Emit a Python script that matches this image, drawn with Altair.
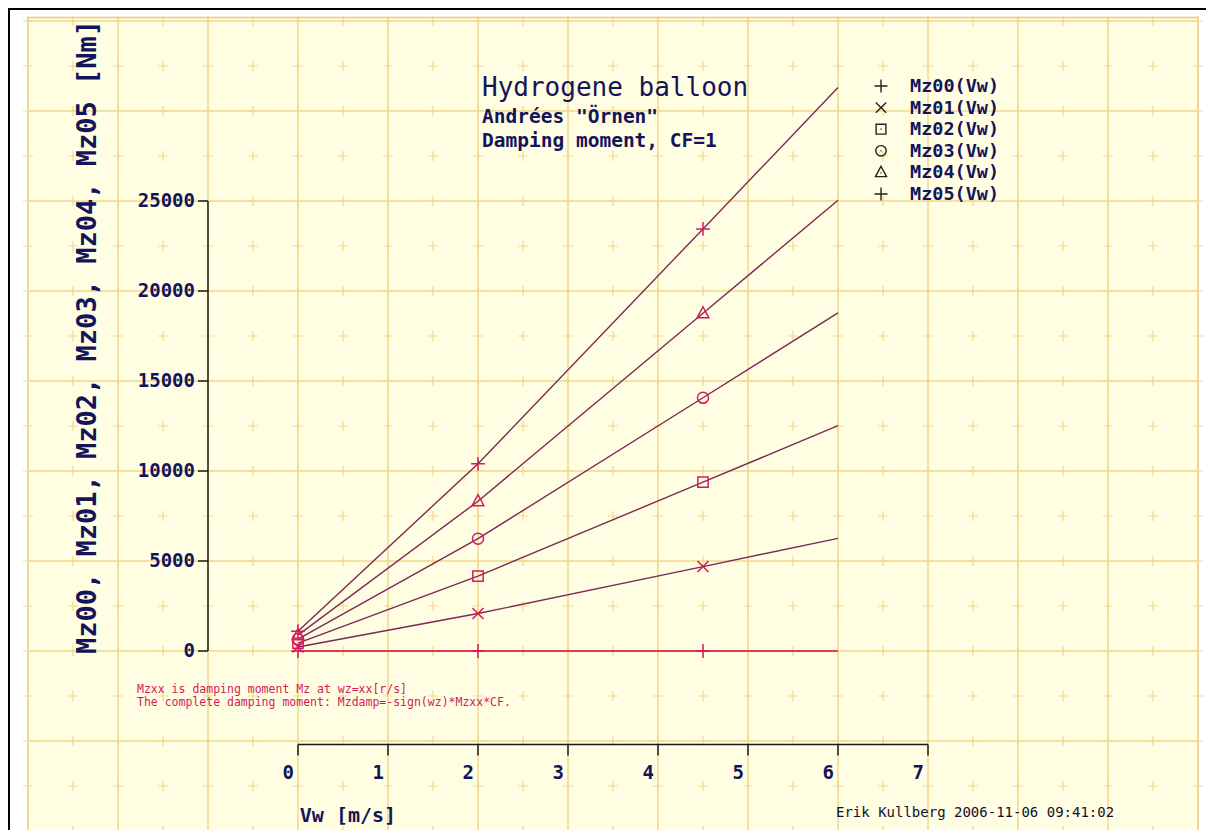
import altair as alt
import pandas as pd
import numpy as np

# ---------------- data ----------------
VW = [0, 2, 4.5, 6]
SERIES = ["Mz00(Vw)", "Mz01(Vw)", "Mz02(Vw)", "Mz03(Vw)", "Mz04(Vw)", "Mz05(Vw)"]
MZ00 = [0, 0, 0, 0]
MZ01 = [220, 2080, 4690, 6260]
MZ02 = [440, 4160, 9380, 12520]
MZ03 = [660, 6240, 14070, 18780]
MZ04 = [880, 8320, 18760, 25040]
MZ05 = [1100, 10400, 23450, 31300]
MARKED_VW = [0, 2, 4.5]

Y_TICKS = [0, 5000, 10000, 15000, 20000, 25000]
X_TICKS = [0, 1, 2, 3, 4, 5, 6, 7]
TITLE_LINES = ["Hydrogene balloon", 'Andrées "Örnen"', "Damping moment, CF=1"]
NOTE_LINES = ["Mzxx is damping moment Mz at wz=xx[r/s]",
              "The complete damping moment: Mzdamp=-sign(wz)*Mzxx*CF."]
Y_TITLE = "Mz00, Mz01, Mz02, Mz03, Mz04, Mz05 [Nm]"
X_TITLE = "Vw [m/s]"
FOOTER = "Erik Kullberg 2006-11-06 09:41:02"

# ---------------- styles ----------------
NAVY = "#14145a"
CRIMSON = "#d41a5c"
MAROON = "#7a2a58"
ZERO_RED = "#e43a52"
CREAM = "#fffde2"
GRID = "#f1d98f"
EDGE = "#f0c878"
FONT = "DejaVu Sans Mono"

W, H = 1198, 822
PX_X = 90.0            # pixels per 1 m/s
PX_Y = 90.0 / 5000.0   # pixels per Nm
X0_PX, Y0_PX = 290.0, 643.0
XMIN, XMAX = -X0_PX / PX_X, (W - X0_PX) / PX_X
YMIN, YMAX = (Y0_PX - H) / PX_Y, Y0_PX / PX_Y

xs = alt.Scale(domain=[XMIN, XMAX], nice=False, zero=False)
ys = alt.Scale(domain=[YMIN, YMAX], nice=False, zero=False)


def X(f):
    return alt.X(f, type="quantitative", scale=xs, axis=None)


def Y(f):
    return alt.Y(f, type="quantitative", scale=ys, axis=None)


def X2(f):
    return alt.X2(f)


def Y2(f):
    return alt.Y2(f)


layers = []

# cream panel
panel = pd.DataFrame({"x": [-3.0], "x2": [10.0], "y": [-10000.0], "y2": [35200.0]})
layers.append(alt.Chart(panel).mark_rect(fill=CREAM, stroke=EDGE, strokeWidth=1.5).encode(
    x=X("x"), x2=X2("x2"), y=Y("y"), y2=Y2("y2")))

# major grid
vgrid = pd.DataFrame({"x": np.arange(-2, 10, 1.0)})
vgrid["y"] = -10000.0
vgrid["y2"] = 35200.0
layers.append(alt.Chart(vgrid).mark_rule(color=GRID, strokeWidth=1.5).encode(
    x=X("x"), y=Y("y"), y2=Y2("y2")))
hgrid = pd.DataFrame({"y": np.arange(-5000, 35001, 5000.0)})
hgrid["x"] = -3.0
hgrid["x2"] = 10.0
layers.append(alt.Chart(hgrid).mark_rule(color=GRID, strokeWidth=1.5).encode(
    y=Y("y"), x=X("x"), x2=X2("x2")))

# minor crosses
gx, gy = np.meshgrid(np.arange(-3, 10.01, 0.5), np.arange(-10000, 35001, 2500.0))
crosses = pd.DataFrame({"x": gx.ravel(), "y": gy.ravel()})
layers.append(alt.Chart(crosses).mark_point(
    shape="M-1,0L1,0M0,-1L0,1", size=100, filled=False, color=GRID, strokeWidth=1.2, opacity=1).encode(
    x=X("x"), y=Y("y")))

# frame (top & left)
frame_top = pd.DataFrame({"x": [XMIN], "x2": [XMAX], "y": [YMAX - 60]})
layers.append(alt.Chart(frame_top).mark_rule(color="#000000", strokeWidth=2).encode(
    x=X("x"), x2=X2("x2"), y=Y("y")))
frame_left = pd.DataFrame({"x": [XMIN + 0.011], "y": [YMIN], "y2": [YMAX]})
layers.append(alt.Chart(frame_left).mark_rule(color="#000000", strokeWidth=2).encode(
    x=X("x"), y=Y("y"), y2=Y2("y2")))

# y axis
yaxis = pd.DataFrame({"x": [-1.0], "y": [0.0], "y2": [float(Y_TICKS[-1])]})
layers.append(alt.Chart(yaxis).mark_rule(color="#1a1a1a", strokeWidth=1.5).encode(
    x=X("x"), y=Y("y"), y2=Y2("y2")))
yt = pd.DataFrame({"y": Y_TICKS, "lab": [str(v) for v in Y_TICKS]})
yt["x"] = -1.0 - 10 / PX_X
yt["x2"] = -1.0
yt["xl"] = -1.0 - 13 / PX_X
layers.append(alt.Chart(yt).mark_rule(color="#1a1a1a", strokeWidth=1.5).encode(
    x=X("x"), x2=X2("x2"), y=Y("y")))
layers.append(alt.Chart(yt).mark_text(align="right", baseline="middle", font=FONT, fontWeight="bold",
                                      fontSize=19, color=NAVY).encode(
    x=X("xl"), y=Y("y"), text="lab:N"))

# x axis
XAX_Y = -5200.0
xaxis = pd.DataFrame({"x": [0.0], "x2": [float(X_TICKS[-1])], "y": [XAX_Y]})
layers.append(alt.Chart(xaxis).mark_rule(color="#1a1a1a", strokeWidth=1.5).encode(
    x=X("x"), x2=X2("x2"), y=Y("y")))
xt = pd.DataFrame({"x": X_TICKS, "lab": [str(v) for v in X_TICKS]})
xt["y"] = XAX_Y
xt["y2"] = XAX_Y - 11 / PX_Y
xt["xl"] = xt["x"] - 4 / PX_X
xt["yl"] = XAX_Y - 28 / PX_Y
layers.append(alt.Chart(xt).mark_rule(color="#1a1a1a", strokeWidth=1.5).encode(
    x=X("x"), y=Y("y"), y2=Y2("y2")))
layers.append(alt.Chart(xt).mark_text(align="right", baseline="middle", font=FONT, fontWeight="bold",
                                      fontSize=19, color=NAVY).encode(
    x=X("xl"), y=Y("yl"), text="lab:N"))

# axis titles
xtitle = pd.DataFrame({"x": [0.02], "y": [(Y0_PX - 808) / PX_Y], "t": [X_TITLE]})
layers.append(alt.Chart(xtitle).mark_text(align="left", baseline="middle", font=FONT, fontWeight="bold",
                                          fontSize=20, color=NAVY).encode(
    x=X("x"), y=Y("y"), text="t:N"))
ytitle = pd.DataFrame({"x": [(80 - X0_PX) / PX_X], "y": [(Y0_PX - 329) / PX_Y], "t": [Y_TITLE]})
layers.append(alt.Chart(ytitle).mark_text(align="center", baseline="middle", font=FONT, fontWeight="bold",
                                          fontSize=27, angle=270, color=NAVY).encode(
    x=X("x"), y=Y("y"), text="t:N"))

# chart title block
tt = pd.DataFrame({"t": TITLE_LINES,
                   "y": [(Y0_PX - 80) / PX_Y, (Y0_PX - 109) / PX_Y, (Y0_PX - 133) / PX_Y]})
tt["x"] = (474 - X0_PX) / PX_X
layers.append(alt.Chart(tt.iloc[[0]]).mark_text(align="left", baseline="middle", font=FONT,
                                                fontSize=26, color=NAVY).encode(
    x=X("x"), y=Y("y"), text="t:N"))
layers.append(alt.Chart(tt.iloc[1:]).mark_text(align="left", baseline="middle", font=FONT, fontWeight="bold",
                                               fontSize=19.5, color=NAVY).encode(
    x=X("x"), y=Y("y"), text="t:N"))

# notes
notes = pd.DataFrame({"t": NOTE_LINES, "y": [(Y0_PX - 682) / PX_Y, (Y0_PX - 695) / PX_Y]})
notes["x"] = (129 - X0_PX) / PX_X
layers.append(alt.Chart(notes).mark_text(align="left", baseline="middle", font=FONT,
                                         fontSize=11.5, color=CRIMSON).encode(
    x=X("x"), y=Y("y"), text="t:N"))

# footer
foot = pd.DataFrame({"t": [FOOTER], "x": [(828 - X0_PX) / PX_X], "y": [(Y0_PX - 805) / PX_Y]})
layers.append(alt.Chart(foot).mark_text(align="left", baseline="middle", font=FONT,
                                        fontSize=14, color="#101030").encode(
    x=X("x"), y=Y("y"), text="t:N"))

# series data
values = [MZ00, MZ01, MZ02, MZ03, MZ04, MZ05]
PLUS = "M-1,0L1,0M0,-1L0,1"
CROSS = "M-0.8,-0.8L0.8,0.8M-0.8,0.8L0.8,-0.8"
SQUARE = "M-0.75,-0.75L0.75,-0.75L0.75,0.75L-0.75,0.75Z"
CIRCLE = "M-0.8,0A0.8,0.8,0,1,1,0.8,0A0.8,0.8,0,1,1,-0.8,0Z"
TRI = "M0,-0.95L0.85,0.65L-0.85,0.65Z"
DOT = "M-0.08,0L0.08,0"
SHAPES = [PLUS, CROSS, SQUARE, CIRCLE, TRI, PLUS]
LSHAPES = [PLUS, CROSS, SQUARE + DOT, CIRCLE + DOT, TRI + "M-0.08,0.1L0.08,0.1", PLUS]
rows = []
for s, vals, shp in zip(SERIES, values, SHAPES):
    for v, m in zip(VW, vals):
        rows.append({"series": s, "vw": v, "mz": m, "shape": shp,
                     "lc": ZERO_RED if s == SERIES[0] else MAROON,
                     "lw": 2.2 if s == SERIES[0] else 1.4})
df = pd.DataFrame(rows)

layers.append(alt.Chart(df).mark_line().encode(
    x=X("vw"), y=Y("mz"), detail="series:N",
    color=alt.Color("lc:N", scale=None),
    strokeWidth=alt.StrokeWidth("lw:Q", scale=None)))

mk = df[df["vw"].isin(MARKED_VW)]
layers.append(alt.Chart(mk).mark_point(filled=False, size=190, strokeWidth=1.5, color=CRIMSON, opacity=1).encode(
    x=X("vw"), y=Y("mz"), shape=alt.Shape("shape:N", scale=None)))

# legend
leg = pd.DataFrame({"series": SERIES, "shape": LSHAPES})
leg["y"] = [(Y0_PX - 78 - i * 21.6) / PX_Y for i in range(len(SERIES))]
leg["xs"] = (873 - X0_PX) / PX_X
leg["xt"] = (902 - X0_PX) / PX_X
layers.append(alt.Chart(leg).mark_point(filled=False, size=170, strokeWidth=1.4, color="#222222", opacity=1).encode(
    x=X("xs"), y=Y("y"), shape=alt.Shape("shape:N", scale=None)))
layers.append(alt.Chart(leg).mark_text(align="left", baseline="middle", font=FONT, fontWeight="bold",
                                       fontSize=18.5, color=NAVY).encode(
    x=X("xt"), y=Y("y"), text="series:N"))

chart = alt.layer(*layers).properties(
    width=W, height=H, padding=0,
    autosize=alt.AutoSizeParams(type="none"),
    background="#ffffff",
).configure_view(stroke=None)

chart.save("out.html", embed_options={"renderer": "svg", "actions": False})
